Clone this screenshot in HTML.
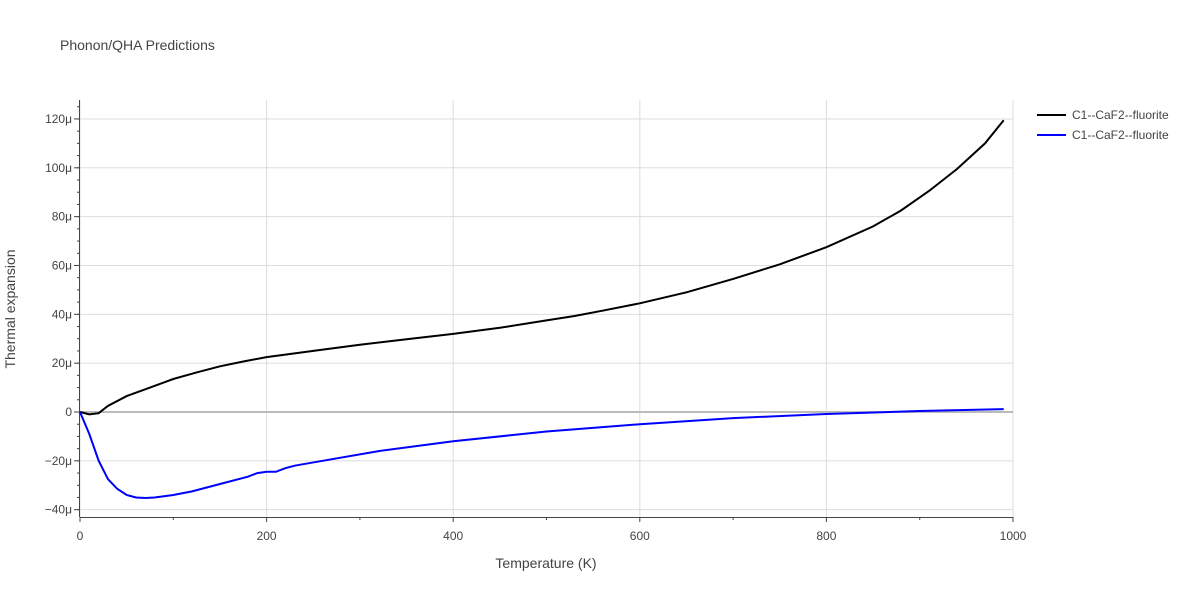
<!DOCTYPE html>
<html><head><meta charset="utf-8"><style>
body{margin:0;background:#fff;font-family:"Liberation Sans",sans-serif;}
svg text{font-family:"Liberation Sans",sans-serif;fill:#444;}
</style></head><body>
<svg id="chart" width="1200" height="600">
<text x="60" y="50" font-size="14">Phonon/QHA Predictions</text>
<g id="grid"></g><g id="axes"></g><g id="series"></g>
<text x="546" y="568" font-size="14" text-anchor="middle">Temperature (K)</text>
<text transform="translate(15,309) rotate(-90)" font-size="14" text-anchor="middle">Thermal expansion</text>
<g>
<g><line x1="1037" y1="115" x2="1066" y2="115" stroke="#000" stroke-width="2"/><text x="1072" y="119" font-size="12">C1--CaF2--fluorite</text></g>
<g><line x1="1037" y1="135" x2="1066" y2="135" stroke="#0000ff" stroke-width="2"/><text x="1072" y="139" font-size="12">C1--CaF2--fluorite</text></g>
</g>
</svg>
<script>
const xTicks=[0,200,400,600,800,1000];
const yTicks=[-40,-20,0,20,40,60,80,100,120];
const yTickLabels=["−40μ","−20μ","0","20μ","40μ","60μ","80μ","100μ","120μ"];
const blackT=[0,10,20,30,50,75,100,125,150,175,200,250,300,350,400,450,500,530,560,600,650,700,750,800,850,880,910,940,970,990];
const blackV=[0,-1,-0.5,2.5,6.5,10,13.5,16.2,18.7,20.7,22.5,25,27.5,29.8,32,34.5,37.5,39.3,41.5,44.5,49,54.5,60.5,67.5,76,82.5,90.5,99.5,110,119.5];
const blueT=[0,10,20,30,40,50,60,70,80,100,120,150,180,190,200,210,220,230,260,320,400,500,600,700,800,900,990];
const blueV=[0,-9,-20,-27.5,-31.5,-34,-35,-35.2,-35,-34,-32.5,-29.5,-26.5,-25,-24.5,-24.5,-23,-22,-20,-16,-12,-8,-5,-2.5,-0.8,0.4,1.2];
const NS="http://www.w3.org/2000/svg";
const X=t=>80+t*0.933, Y=v=>412-v*2.442;
const grid=document.getElementById('grid'),axes=document.getElementById('axes'),ser=document.getElementById('series');
function mk(tag,attrs,parent){const e=document.createElementNS(NS,tag);for(const k in attrs)e.setAttribute(k,attrs[k]);parent.appendChild(e);return e;}
xTicks.forEach(t=>{
 const l=mk('line',{x1:X(t),x2:X(t),y1:100,y2:517,stroke:'#ddd'},grid);
 
 
 const tx=mk('text',{x:X(t),y:540,'font-size':12,'text-anchor':'middle'},axes);tx.textContent=t;
 
 
 mk('line',{x1:X(t),x2:X(t),y1:517,y2:522,stroke:'#444'},axes);
});
for(let t=100;t<1000;t+=200){mk('line',{x1:X(t),x2:X(t),y1:517,y2:520,stroke:'#444'},axes);}
yTicks.forEach((v,i)=>{
 const l=mk('line',{x1:80,x2:1013,y1:Y(v),y2:Y(v),stroke:v===0?'#bbb':'#ddd','stroke-width':v===0?2:1},grid);
 
 
 const tx=mk('text',{x:72,y:Y(v)+4,'font-size':12,'text-anchor':'end'},axes);tx.textContent=yTickLabels[i];
 
 
 mk('line',{x1:74,x2:80,y1:Y(v),y2:Y(v),stroke:'#444'},axes);
});
for(let v=-40;v<=125;v+=5){mk('line',{x1:77,x2:80,y1:Y(v),y2:Y(v),stroke:'#444'},axes);}
mk('line',{x1:79.5,x2:79.5,y1:100,y2:517,stroke:'#444'},axes);
mk('line',{x1:80,x2:1013,y1:517.5,y2:517.5,stroke:'#444'},axes);
function path(T,V,c,name){const d=T.map((t,i)=>(i?'L':'M')+X(t).toFixed(1)+','+Y(V[i]).toFixed(1)).join('');
 const p=mk('path',{d:d,fill:'none',stroke:c,'stroke-width':2},ser);
 
 }
path(blackT,blackV,'#000','series-black-line');
path(blueT,blueV,'#0000ff','series-blue-line');
</script>
</body></html>
